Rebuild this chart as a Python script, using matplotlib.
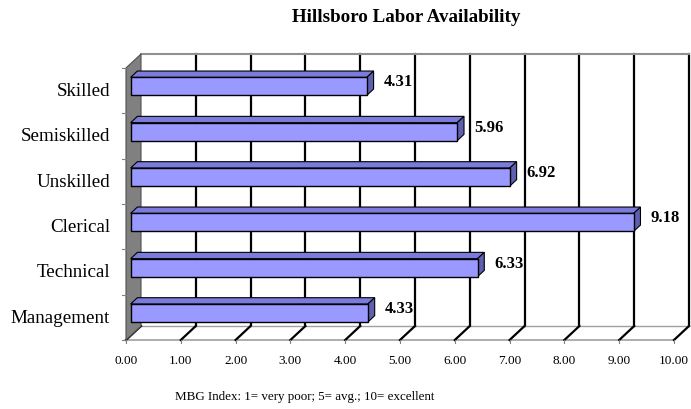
import matplotlib.pyplot as plt
from matplotlib.patches import Polygon, Rectangle

plt.rcParams['font.family'] = ['Liberation Serif', 'DejaVu Serif']

# data (bottom to top)
categories = ['Management', 'Technical', 'Clerical', 'Unskilled', 'Semiskilled', 'Skilled']
values = [4.33, 6.33, 9.18, 6.92, 5.96, 4.31]
x_ticks = [0, 1, 2, 3, 4, 5, 6, 7, 8, 9, 10]
x_tick_labels = ['%.2f' % t for t in x_ticks]

W, H = 691, 410
fig = plt.figure(figsize=(W / 100, H / 100), dpi=100)
# front plane of the 3D box, in pixels
left_px, right_px, top_px, bottom_px = 126, 674, 69, 341
ax = fig.add_axes([left_px / W, (H - bottom_px) / H,
                   (right_px - left_px) / W, (bottom_px - top_px) / H])
xmin, xmax, ymin, ymax = 0, 10, -0.5, 5.5
ax.set_xlim(xmin, xmax)
ax.set_ylim(ymin, ymax)
ax.axis('off')

# pixel -> data unit conversion
ux = (right_px - left_px) / (xmax - xmin)
uy = (bottom_px - top_px) / (ymax - ymin)
dx, dy = 15 / ux, 14 / uy          # full depth of the box
f0, f1 = 0.31, 0.76                # bar front/back depth fractions

# back wall gridlines
for t in x_ticks[1:]:
    ax.plot([t + dx, t + dx], [ymin + dy, ymax + dy], color='black', lw=1.6,
            clip_on=False, zorder=1)
# back wall top edge
ax.plot([xmin + dx, xmax + dx], [ymax + dy, ymax + dy], color='#909090', lw=1.5,
        clip_on=False, zorder=1)

# floor
ax.plot([xmin, xmax], [ymin, ymin], color='#a0a0a0', lw=1.2, clip_on=False, zorder=1)
ax.plot([xmin + dx, xmax + dx], [ymin + dy, ymin + dy], color='#a0a0a0', lw=1.0,
        clip_on=False, zorder=1)
for t in x_ticks:
    ax.plot([t, t + dx], [ymin, ymin + dy], color='black', lw=1.6,
            clip_on=False, zorder=2)
    ax.plot([t, t], [ymin, ymin - 3 / uy], color='#808080', lw=0.8,
            clip_on=False, zorder=2)

# left wall
wall = Polygon([[xmin, ymin], [xmin + dx, ymin + dy], [xmin + dx, ymax + dy],
                [xmin, ymax]], closed=True, facecolor='#808080',
               edgecolor='#505050', lw=0.8, clip_on=False, zorder=2)
ax.add_patch(wall)
for b in range(len(categories) + 1):
    yb = ymin + b
    ax.plot([xmin - 4 / ux, xmin], [yb, yb], color='#808080', lw=0.8,
            clip_on=False, zorder=2)

# bars
h = 18 / uy
for i, (cat, v) in enumerate(zip(categories, values)):
    x0 = f0 * dx
    y0 = i - h / 2 + f0 * dy
    ex, ey = (f1 - f0) * dx, (f1 - f0) * dy
    front = Rectangle((x0, y0), v, h, facecolor='#9999ff', edgecolor='black',
                      lw=1.0, clip_on=False, zorder=4)
    top = Polygon([[x0, y0 + h], [x0 + v, y0 + h], [x0 + v + ex, y0 + h + ey],
                   [x0 + ex, y0 + h + ey]], closed=True, facecolor='#7b7bdb',
                  edgecolor='black', lw=0.8, clip_on=False, zorder=3)
    side = Polygon([[x0 + v, y0], [x0 + v + ex, y0 + ey],
                    [x0 + v + ex, y0 + h + ey], [x0 + v, y0 + h]], closed=True,
                   facecolor='#5f5fb0', edgecolor='black', lw=0.8,
                   clip_on=False, zorder=3)
    ax.add_patch(top)
    ax.add_patch(side)
    ax.add_patch(front)
    ax.text(x0 + v + ex + 10 / ux, i + f0 * dy + 5 / uy, '%.2f' % v,
            ha='left', va='center', fontsize=12, fontweight='bold', zorder=5)
    ax.text(xmin - 16 / ux, i, cat, ha='right', va='center', fontsize=13.7)

for t, lab in zip(x_ticks, x_tick_labels):
    ax.text(t, ymin - 20 / uy, lab, ha='center', va='center', fontsize=9.5)

fig.text(406 / W, 1 - 17 / H, 'Hillsboro Labor Availability', ha='center',
         va='center', fontsize=13.7, fontweight='bold')
fig.text(305 / W, 1 - 397 / H, 'MBG Index: 1= very poor; 5= avg.; 10= excellent',
         ha='center', va='center', fontsize=9.4)

fig.savefig('out.png', dpi=100)
